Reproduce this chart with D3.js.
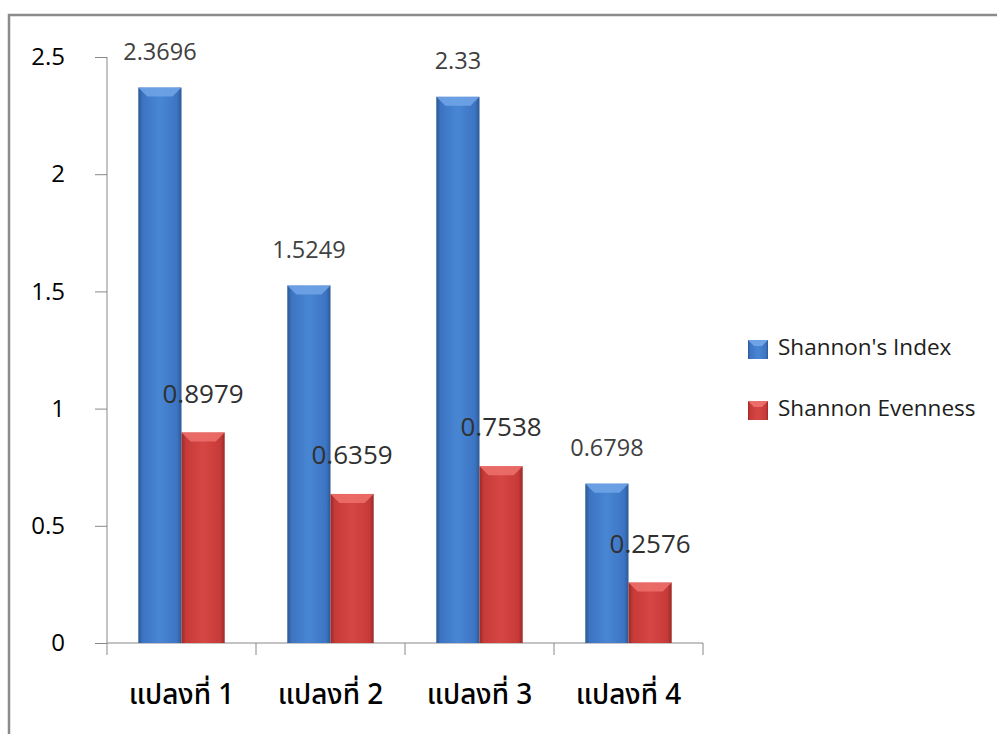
<!DOCTYPE html>
<html>
<head>
<meta charset="utf-8">
<script src="https://cdn.jsdelivr.net/npm/d3@7"></script>
<style>
  html, body { margin: 0; padding: 0; background: #fff; }
  svg { display: block; }
</style>
</head>
<body>
<svg id="chart"></svg>
<script>
// chart data
const categories = ["แปลงที่ 1", "แปลงที่ 2", "แปลงที่ 3", "แปลงที่ 4"];
const seriesNames = ["Shannon's Index", "Shannon Evenness"];
const shannonIndex = [2.3696, 1.5249, 2.33, 0.6798];
const shannonEvenness = [0.8979, 0.6359, 0.7538, 0.2576];
const yTicks = [0, 0.5, 1, 1.5, 2, 2.5];

const W = 997, H = 734;
const margin = {top: 57, left: 107},
    plotW = 596,
    plotH = 586;

const svg = d3.select("#chart").attr("width", W).attr("height", H);

// outer frame (runs off the right and bottom edges)
svg.append("rect")
    .attr("x", 9).attr("y", 15)
    .attr("width", W + 20).attr("height", H + 20)
    .attr("fill", "none").attr("stroke", "#8c8c8c").attr("stroke-width", 2.5);

// gradients for the bevelled bars
const defs = svg.append("defs");
const palettes = [
  {id: "gBlue", edge: "#2c5893", mid: "#3c74c2", light: "#4886d4", top: "#6fa3e6"},
  {id: "gRed", edge: "#9a2a28", mid: "#c63a37", light: "#d64744", top: "#ec6e6a"}
];
palettes.forEach(function(p) {
  const g = defs.append("linearGradient").attr("id", p.id)
      .attr("x1", "0%").attr("x2", "100%").attr("y1", "0%").attr("y2", "0%");
  [[0, p.edge], [0.1, p.mid], [0.5, p.light], [0.9, p.mid], [1, p.edge]].forEach(function(s) {
    g.append("stop").attr("offset", s[0]).attr("stop-color", s[1]);
  });
});

const root = svg.append("g").attr("transform", "translate(" + margin.left + "," + margin.top + ")");

// scales
const x0 = d3.scaleBand().domain(categories).range([0, plotW]).padding(0);
const groupW = x0.bandwidth() * 0.58;
const x1 = d3.scaleBand().domain(seriesNames).range([0, groupW]).padding(0);
const y = d3.scaleLinear().domain([0, 2.5]).range([plotH, 0]);

// y axis
const yAxis = root.append("g")
    .call(d3.axisLeft(y).tickValues(yTicks).tickSize(12).tickPadding(30)
      .tickFormat(function(d) { return String(d); }));
yAxis.select(".domain").attr("stroke", "#888").attr("d", "M0," + plotH + "V0");
yAxis.selectAll(".tick line").attr("stroke", "#888");
yAxis.selectAll(".tick text")
    .attr("fill", "#000")
    .style("font-family", "'Open Sans', 'DejaVu Sans', sans-serif")
    .style("font-weight", "500")
    .style("font-size", "24px");

// x axis: line + ticks on the category boundaries
const xAxis = root.append("g").attr("transform", "translate(0," + plotH + ")");
xAxis.append("line").attr("x1", 0).attr("x2", plotW)
    .attr("stroke", "#888");
const bounds = categories.map(function(c) { return x0(c); }).concat([plotW]);
xAxis.selectAll(".xtick").data(bounds).enter().append("line")
    .attr("x1", function(d) { return d; }).attr("x2", function(d) { return d; })
    .attr("y1", 0).attr("y2", 12)
    .attr("stroke", "#888");
xAxis.selectAll(".xlab").data(categories).enter().append("text")
    .attr("x", function(d) { return x0(d) + x0.bandwidth() / 2; })
    .attr("y", 61)
    .attr("text-anchor", "middle")
    .attr("fill", "#000")
    .style("font-family", "'Leelawadee UI', Tahoma, 'Noto Sans Thai', 'DejaVu Sans', sans-serif")
    .style("font-weight", "500")
    .style("font-size", "28px")
    .text(function(d) { return d; });

// bars
const rows = categories.map(function(c, i) {
  return {cat: c, values: [shannonIndex[i], shannonEvenness[i]]};
});
const bevel = 9;
const groups = root.selectAll(".grp").data(rows).enter().append("g")
    .attr("transform", function(d) {
      return "translate(" + (x0(d.cat) + (x0.bandwidth() - groupW) / 2) + ",0)";
    });

const bars = groups.selectAll(".bar").data(function(d) {
  return d.values.map(function(v, k) { return {v: v, k: k}; });
}).enter().append("g");

bars.append("rect")
    .attr("x", function(d) { return x1(seriesNames[d.k]); })
    .attr("y", function(d) { return y(d.v); })
    .attr("width", x1.bandwidth())
    .attr("height", function(d) { return plotH - y(d.v); })
    .attr("fill", function(d) { return "url(#" + palettes[d.k].id + ")"; });

bars.append("path")
    .attr("d", function(d) {
      const xl = x1(seriesNames[d.k]), xr = xl + x1.bandwidth(), yt = y(d.v);
      return "M" + xl + "," + yt + "L" + xr + "," + yt +
        "L" + (xr - bevel) + "," + (yt + bevel) + "L" + (xl + bevel) + "," + (yt + bevel) + "Z";
    })
    .attr("fill", function(d) { return palettes[d.k].top; })
    .attr("opacity", 0.9);

// value labels
bars.append("text")
    .attr("x", function(d) { return x1(seriesNames[d.k]) + x1.bandwidth() / 2; })
    .attr("y", function(d) { return y(d.v) - (d.k === 0 ? 28 : 30); })
    .attr("text-anchor", "middle")
    .attr("fill", function(d) { return d.k === 0 ? "#404040" : "#303030"; })
    .style("font-family", "'Open Sans', 'DejaVu Sans', sans-serif")
    .style("font-size", function(d) { return d.k === 0 ? "23.5px" : "26px"; })
    .text(function(d) { return String(d.v); });

// legend
const legend = svg.append("g").attr("transform", "translate(748,340)");
const li = legend.selectAll(".li").data(seriesNames).enter().append("g")
    .attr("transform", function(d, i) { return "translate(0," + (i * 61) + ")"; });
li.append("rect").attr("width", 20).attr("height", 19)
    .attr("fill", function(d, i) { return "url(#" + palettes[i].id + ")"; });
li.append("path").attr("d", "M0,0L20,0L14,6L6,6Z")
    .attr("fill", function(d, i) { return palettes[i].top; });
li.append("text").attr("x", 30).attr("y", 15)
    .attr("fill", "#202020")
    .style("font-family", "'Open Sans', 'DejaVu Sans', sans-serif")
    .style("font-size", "22.5px")
    .text(function(d) { return d; });
</script>
</body>
</html>
